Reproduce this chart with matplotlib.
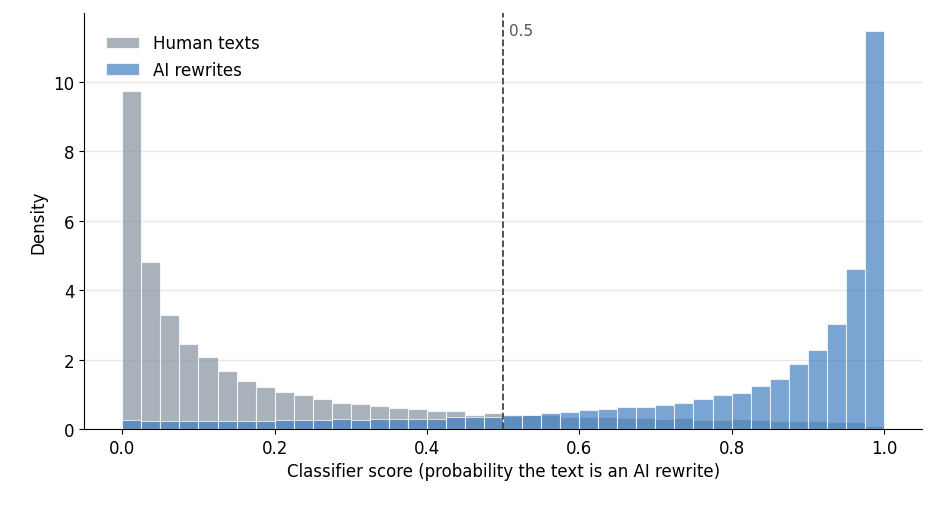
import matplotlib
matplotlib.use("Agg")
import matplotlib.pyplot as plt
import numpy as np

bin_edges = np.linspace(0, 1, 41)
human = [9.74, 4.81, 3.28, 2.46, 2.06, 1.68, 1.39, 1.22, 1.07, 0.99,
         0.87, 0.75, 0.72, 0.67, 0.61, 0.58, 0.52, 0.52, 0.41, 0.46,
         0.38, 0.40, 0.39, 0.35, 0.34, 0.35, 0.32, 0.32, 0.30, 0.32,
         0.27, 0.27, 0.29, 0.25, 0.23, 0.23, 0.23, 0.20, 0.20, 0.09]
ai = [0.26, 0.24, 0.24, 0.24, 0.24, 0.24, 0.22, 0.24, 0.26, 0.26,
      0.26, 0.28, 0.26, 0.28, 0.30, 0.30, 0.30, 0.33, 0.33, 0.35,
      0.41, 0.41, 0.46, 0.49, 0.55, 0.58, 0.64, 0.64, 0.70, 0.75,
      0.87, 0.99, 1.04, 1.25, 1.45, 1.88, 2.29, 3.02, 4.61, 11.48]

fig, ax = plt.subplots(figsize=(9.36, 5.10), dpi=100)
left = bin_edges[:-1]
w = np.diff(bin_edges)
ax.bar(left, human, width=w, align="edge", color="#8d97a5", alpha=0.75,
       edgecolor="white", linewidth=0.8, label="Human texts", zorder=2)
ax.bar(left, ai, width=w, align="edge", color="#3b7bbd", alpha=0.68,
       edgecolor="white", linewidth=0.8, label="AI rewrites", zorder=3)
ax.axvline(0.5, color="#444444", linestyle="--", linewidth=1.3, zorder=4)
ax.text(0.508, 11.5, "0.5", color="#555555", fontsize=11, va="center")
ax.set_xlim(-0.05, 1.05)
ax.set_ylim(0, 12)
ax.set_yticks([0, 2, 4, 6, 8, 10])
ax.grid(axis="y", color="#e5e5ea", linewidth=0.9, zorder=0)
ax.set_axisbelow(True)
for s in ["top", "right"]:
    ax.spines[s].set_visible(False)
ax.tick_params(labelsize=12)
ax.set_xlabel("Classifier score (probability the text is an AI rewrite)", fontsize=12)
ax.set_ylabel("Density", fontsize=12)
ax.legend(loc="upper left", frameon=False, fontsize=12, borderaxespad=0.9)
fig.subplots_adjust(left=0.09, right=0.985, top=0.973, bottom=0.157)
fig.savefig("out.png")
